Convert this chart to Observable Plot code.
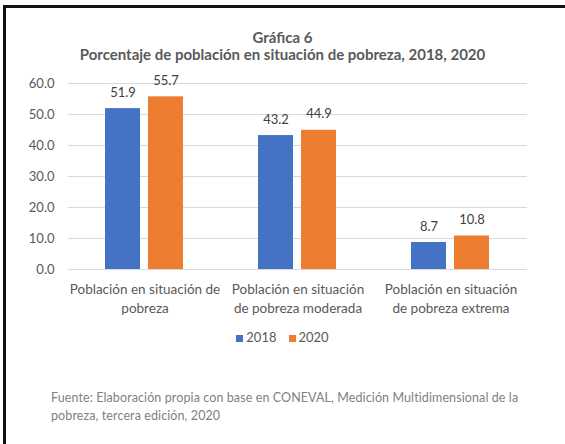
<!DOCTYPE html>
<html>
<head>
<meta charset="utf-8">
<script src="https://cdn.jsdelivr.net/npm/d3@7"></script>
<script src="https://cdn.jsdelivr.net/npm/@observablehq/plot@0.6"></script>
<style>
  html, body { margin: 0; padding: 0; background: #fff; }
  body { width: 565px; height: 444px; position: relative; overflow: hidden; font-family: Lato, "Open Sans", sans-serif; }
  #frame { position: absolute; left: 3px; top: 5px; width: 600px; height: 500px; border-top: 3px solid #111; border-left: 3px solid #111; box-sizing: border-box; }
  #title { position: absolute; left: 0; width: 565px; top: 29px; text-align: center; color: #595959; font-weight: bold; font-size: 15px; line-height: 17px; }
  #chart { position: absolute; left: 0; top: 62px; }
  #legend { position: absolute; left: 0; width: 565px; top: 329px; text-align: center; color: #595959; font-size: 13px; }
  #legend span.sw { display: inline-block; width: 7px; height: 7px; margin-right: 3px; }
  #legend span.it { margin: 0 6px; }
  #caption { position: absolute; left: 51px; top: 389px; color: #7f7f7f; font-size: 12.5px; letter-spacing: 0.1px; line-height: 18px; width: 510px; white-space: nowrap; }
</style>
</head>
<body>
<div id="frame"></div>
<div id="title">Gráfica 6<br>Porcentaje de población en situación de pobreza, 2018, 2020</div>
<div id="chart"></div>
<div id="legend"></div>
<div id="caption">Fuente: Elaboración propia con base en CONEVAL, Medición Multidimensional de la<br>pobreza, tercera edición, 2020</div>
<script>
const categories = [
  "Población en situación de\npobreza",
  "Población en situación\nde pobreza moderada",
  "Población en situación\nde pobreza extrema"
];
const years = ["2018", "2020"];
const values2018 = [51.9, 43.2, 8.7];
const values2020 = [55.7, 44.9, 10.8];
const yTicks = [0, 10, 20, 30, 40, 50, 60];
const colors = ["#4472C4", "#ED7D31"];

const data = [];
categories.forEach((c, i) => {
  data.push({category: c, year: years[0], value: values2018[i]});
  data.push({category: c, year: years[1], value: values2020[i]});
});

const chart = Plot.plot({
  width: 565,
  height: 262,
  marginLeft: 67,
  marginRight: 38,
  marginTop: 21,
  marginBottom: 55,
  style: {fontFamily: "Lato, 'Open Sans', sans-serif", fontSize: "13px", color: "#595959", background: "transparent", overflow: "visible"},
  fx: {domain: categories, padding: 0, label: null},
  x: {domain: years, paddingInner: 0.186, paddingOuter: 0.872, axis: null},
  y: {domain: [0, 60], ticks: yTicks, label: null},
  color: {domain: years, range: colors},
  marks: [
    Plot.gridY(yTicks, {stroke: "#d9d9d9", strokeOpacity: 1}),
    Plot.axisY(yTicks, {tickSize: 0, tickPadding: 14, tickFormat: d => d.toFixed(1), fill: "#595959", fontSize: 13, label: null}),
    Plot.axisFx({anchor: "bottom", tickSize: 0, tickPadding: 11, lineHeight: 1.4, fill: "#595959", fontSize: 13.5, label: null}),
    Plot.barY(data, {fx: "category", x: "year", y: "value", fill: "year"}),
    Plot.text(data, {fx: "category", x: "year", y: "value", text: d => d.value.toFixed(1), dy: -16, fill: "#404040", fontSize: 13})
  ]
});
document.getElementById("chart").appendChild(chart);

const legend = document.getElementById("legend");
years.forEach((y, i) => {
  const it = document.createElement("span");
  it.className = "it";
  it.innerHTML = `<span class="sw" style="background:${colors[i]}"></span>${y}`;
  legend.appendChild(it);
});
</script>
</body>
</html>
